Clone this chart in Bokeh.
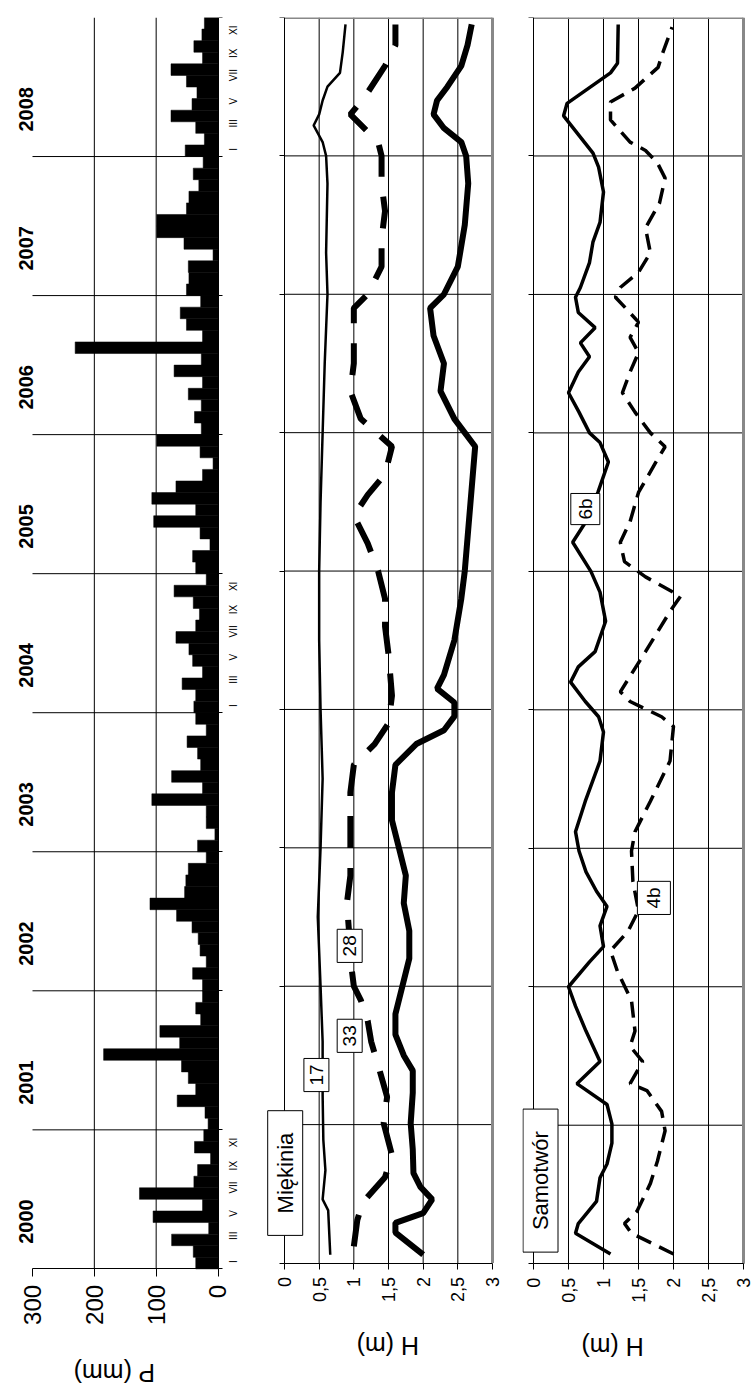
import math
from bokeh.plotting import figure
from bokeh.models import Range1d, FixedTicker, LinearAxis, Label
from bokeh.layouts import row
from bokeh.embed import file_html
from bokeh.resources import INLINE

FONT = "Liberation Sans"

# ---------------- data ----------------
years = [2000, 2001, 2002, 2003, 2004, 2005, 2006, 2007, 2008]
month_labels = ["I", "III", "V", "VII", "IX", "XI"]

# monthly precipitation P (mm), Jan..Dec
p2000 = [36, 40, 75, 15, 105, 25, 127, 39, 33, 12, 38, 23]
p2001 = [16, 21, 66, 36, 48, 59, 185, 62, 94, 28, 36, 25]
p2002 = [25, 41, 19, 29, 32, 42, 67, 110, 54, 52, 48, 19]
p2003 = [33, 5, 19, 19, 107, 25, 75, 28, 33, 50, 19, 36]
p2004 = [39, 36, 58, 25, 41, 47, 68, 36, 30, 40, 71, 19]
p2005 = [36, 41, 13, 29, 104, 36, 107, 68, 25, 8, 29, 99]
p2006 = [27, 38, 27, 48, 25, 71, 27, 231, 25, 51, 61, 28]
p2007 = [51, 47, 48, 8, 55, 99, 99, 51, 47, 31, 40, 24]
p2008 = [53, 22, 36, 76, 42, 34, 51, 76, 25, 39, 26, 22]
precip = p2000 + p2001 + p2002 + p2003 + p2004 + p2005 + p2006 + p2007 + p2008

# groundwater depth H (m) – Miękinia, piezometers 17, 28, 33 (time in decimal years)
m17_t = [2000.06, 2000.38, 2000.46, 2000.67, 2000.89, 2001.21, 2001.6, 2002.0, 2002.5, 2003.0,
         2003.5, 2004.0, 2004.5, 2005.0, 2005.5, 2006.0, 2006.5, 2007.0, 2007.3, 2007.8,
         2008.0, 2008.1, 2008.22, 2008.3, 2008.4, 2008.5, 2008.6, 2008.75, 2008.95]
m17_h = [0.66, 0.63, 0.55, 0.59, 0.56, 0.55, 0.55, 0.52, 0.48, 0.52,
         0.55, 0.52, 0.5, 0.5, 0.52, 0.55, 0.58, 0.62, 0.6, 0.62,
         0.6, 0.55, 0.42, 0.5, 0.55, 0.62, 0.8, 0.84, 0.88]

m28_t = [2000.12, 2000.31, 2000.44, 2000.62, 2000.78, 2001.01, 2001.2, 2001.43, 2001.6, 2001.75,
         2001.9, 2002.0, 2002.2, 2002.4, 2002.6, 2002.8, 2003.0, 2003.2, 2003.4, 2003.6,
         2003.75, 2003.9, 2004.1, 2004.4, 2004.6, 2004.8, 2005.0, 2005.2, 2005.4, 2005.55,
         2005.7, 2005.9, 2006.1, 2006.3, 2006.5, 2006.7, 2006.9, 2007.0, 2007.2, 2007.4,
         2007.6, 2007.8, 2008.0, 2008.1, 2008.3, 2008.42, 2008.65, 2008.8, 2008.95]
m28_h = [1.0, 1.05, 1.13, 1.45, 1.55, 1.43, 1.48, 1.35, 1.25, 1.2,
         1.1, 1.0, 0.95, 0.93, 0.9, 0.95, 0.95, 0.95, 0.95, 1.0,
         1.3, 1.5, 1.55, 1.5, 1.45, 1.45, 1.35, 1.2, 1.0, 1.2,
         1.45, 1.55, 1.1, 0.95, 1.0, 1.0, 1.0, 1.2, 1.4, 1.4,
         1.45, 1.4, 1.4, 1.35, 0.95, 1.15, 1.45, 1.6, 1.6]

m33_t = [2000.06, 2000.22, 2000.29, 2000.36, 2000.46, 2000.55, 2000.65, 2000.82, 2001.01, 2001.23,
         2001.39, 2001.5, 2001.65, 2001.8, 2002.0, 2002.2, 2002.4, 2002.6, 2002.8, 2003.0,
         2003.2, 2003.4, 2003.6, 2003.75, 2003.85, 2003.95, 2004.05, 2004.15, 2004.25, 2004.5,
         2004.8, 2005.0, 2005.3, 2005.6, 2005.9, 2006.1, 2006.3, 2006.5, 2006.7, 2006.9,
         2007.0, 2007.2, 2007.5, 2007.8, 2008.0, 2008.1, 2008.2, 2008.3, 2008.4, 2008.5,
         2008.65, 2008.8, 2008.95]
m33_h = [2.0, 1.6, 1.6, 2.0, 2.13, 1.96, 1.86, 1.85, 1.82, 1.85,
         1.85, 1.72, 1.6, 1.6, 1.7, 1.8, 1.8, 1.72, 1.75, 1.65,
         1.55, 1.55, 1.6, 1.9, 2.3, 2.45, 2.45, 2.2, 2.3, 2.45,
         2.55, 2.6, 2.65, 2.7, 2.75, 2.45, 2.25, 2.3, 2.15, 2.1,
         2.3, 2.5, 2.6, 2.65, 2.62, 2.55, 2.3, 2.15, 2.2, 2.35,
         2.55, 2.64, 2.7]

# Samotwór, piezometers 6b, 4b
s6b_t = [2000.07, 2000.22, 2000.29, 2000.45, 2000.62, 2000.72, 2000.87, 2001.01, 2001.15, 2001.30,
         2001.46, 2001.57, 2001.68, 2001.86, 2002.0, 2002.18, 2002.29, 2002.44, 2002.58, 2002.69,
         2002.83, 2002.98, 2003.12, 2003.34, 2003.63, 2003.84, 2003.95, 2004.06, 2004.2, 2004.31,
         2004.42, 2004.64, 2004.85, 2005.0, 2005.21, 2005.36, 2005.57, 2005.79, 2005.93, 2006.0,
         2006.15, 2006.29, 2006.44, 2006.55, 2006.65, 2006.76, 2006.87, 2006.98, 2007.05, 2007.23,
         2007.38, 2007.52, 2007.74, 2007.92, 2008.02, 2008.29, 2008.38, 2008.6, 2008.67, 2008.95]
s6b_h = [1.1, 0.6, 0.64, 0.9, 0.95, 1.05, 1.12, 1.12, 1.05, 0.62,
         0.95, 0.85, 0.75, 0.6, 0.5, 0.8, 1.0, 0.95, 1.05, 0.9,
         0.75, 0.65, 0.6, 0.74, 0.95, 1.0, 0.93, 0.74, 0.53, 0.64,
         0.88, 1.03, 0.95, 0.82, 0.56, 0.75, 0.92, 1.07, 0.95, 0.8,
         0.65, 0.5, 0.64, 0.8, 0.67, 0.88, 0.64, 0.6, 0.67, 0.8,
         0.85, 0.95, 1.0, 0.93, 0.85, 0.43, 0.48, 1.1, 1.2, 1.21]

s4b_t = [2000.07, 2000.22, 2000.29, 2000.38, 2000.58, 2000.74, 2000.96, 2001.1, 2001.25, 2001.3,
         2001.46, 2001.57, 2001.68, 2001.9, 2002.11, 2002.26, 2002.4, 2002.55, 2002.76, 2002.98,
         2003.12, 2003.34, 2003.63, 2003.88, 2003.95, 2004.06, 2004.13, 2004.42, 2004.71, 2004.82,
         2004.96, 2005.07, 2005.21, 2005.36, 2005.57, 2005.79, 2005.9, 2006.0, 2006.15, 2006.29,
         2006.44, 2006.58, 2006.69, 2006.8, 2006.91, 2006.98, 2007.05, 2007.16, 2007.3, 2007.48,
         2007.66, 2007.84, 2007.95, 2008.04, 2008.1, 2008.26, 2008.39, 2008.49, 2008.64, 2008.75,
         2008.93]
s4b_h = [2.0, 1.4, 1.3, 1.48, 1.67, 1.77, 1.88, 1.83, 1.62, 1.38,
         1.56, 1.38, 1.45, 1.4, 1.2, 1.1, 1.35, 1.5, 1.42, 1.4,
         1.45, 1.67, 1.95, 2.0, 1.83, 1.38, 1.24, 1.6, 1.95, 2.1,
         1.6, 1.3, 1.24, 1.38, 1.5, 1.75, 1.88, 1.67, 1.45, 1.27,
         1.38, 1.5, 1.38, 1.5, 1.3, 1.17, 1.24, 1.5, 1.67, 1.6,
         1.8, 1.88, 1.77, 1.6, 1.38, 1.1, 1.1, 1.45, 1.78, 1.85,
         1.98]

h_ticks = [0, 0.5, 1, 1.5, 2, 2.5, 3]
h_tick_labels = ["0", "0,5", "1", "1,5", "2", "2,5", "3"]
h_grid = [0.5, 1, 1.5, 2, 2.5]
p_ticks = [0, 100, 200, 300]
p_grid = [100, 200]

# ---------------- layout helpers ----------------
NM = 12 * len(years)
H_MAX = 3.0
P_MAX = 300
V = math.pi / 2
HEIGHT = 1387
BOTTOM = 1387          # frame bottom (px); the time axis itself sits higher, inside the frame


def to_m(ts):
    return [(t - years[0]) * 12.0 for t in ts]


def y_range_for(top, axis_y):
    """Time range (months) so that months 0..NM span top..axis_y px and the frame runs on to BOTTOM."""
    ppm = (axis_y - top) / NM
    return Range1d(-(BOTTOM - axis_y) / ppm, NM), ppm


def x_range_for(v0, px0, v1, px1, left_px, right_px):
    """Value range whose frame spans canvas px left_px..right_px, with v0 at px0 and v1 at px1."""
    k = (v1 - v0) / (px1 - px0)
    return Range1d(v0 + (left_px - px0) * k, v0 + (right_px - px0) * k)


year_bounds = list(range(0, NM + 1, 12))
inner_bounds = year_bounds[1:-1]


def style_bottom_axis(ax, ticks, labels, size, tick_out, standoff, bounds):
    ax.fixed_location = 0
    ax.bounds = bounds
    ax.ticker = FixedTicker(ticks=ticks)
    if labels is not None:
        ax.major_label_overrides = dict(zip(ticks, labels))
    ax.major_label_orientation = V
    ax.major_label_text_font = FONT
    ax.major_label_text_font_size = size
    ax.major_label_text_color = "black"
    ax.major_tick_out = tick_out
    ax.major_tick_in = 0
    ax.minor_tick_out = 0
    ax.minor_tick_in = 0
    ax.major_label_standoff = standoff
    ax.axis_line_color = "black"


def title(f, x, y, text):
    f.add_layout(Label(x=x, y=y, text=text, angle=math.pi, text_align="center", text_baseline="middle",
                       text_font=FONT, text_font_size="25px", text_color="black"))


# ---------------- precipitation panel (canvas x 0..250) ----------------
W1 = 250
yr1, ppm1 = y_range_for(12.5, 1268)
p1 = figure(width=W1, height=HEIGHT, x_range=x_range_for(P_MAX, 32, 0, 217.5, 0, W1), y_range=yr1,
            output_backend="svg", toolbar_location=None,
            min_border_left=0, min_border_right=0, min_border_top=12, min_border_bottom=HEIGHT - BOTTOM)
p1.outline_line_color = None
p1.ygrid.grid_line_color = None
p1.xgrid.grid_line_color = None
p1.segment(x0=p_grid, x1=p_grid, y0=[0] * len(p_grid), y1=[NM] * len(p_grid),
           line_color="black", line_width=1)
p1.segment(x0=[P_MAX] * len(inner_bounds), x1=[0] * len(inner_bounds), y0=inner_bounds, y1=inner_bounds,
           line_color="black", line_width=1)
p1.hbar(y=[i + 0.5 for i in range(NM)], height=1.0, left=0, right=precip,
        fill_color="black", line_color="black", line_width=0.5)

style_bottom_axis(p1.xaxis[0], p_ticks, None, "24px", 8, 8, (0, P_MAX))
title(p1, 168, -104 / ppm1, "P (mm)")

ya = p1.yaxis[0]
ya.fixed_location = P_MAX
ya.ticker = FixedTicker(ticks=[6 + 12 * k for k in range(len(years))])
ya.major_label_overrides = {6 + 12 * k: str(y) for k, y in enumerate(years)}
ya.major_label_orientation = V
ya.major_label_text_font = FONT
ya.major_label_text_font_size = "20px"
ya.major_label_text_font_style = "bold"
ya.major_label_text_color = "black"
ya.major_tick_out = 0
ya.major_tick_in = 0
ya.minor_tick_out = 0
ya.minor_tick_in = 0
ya.axis_line_color = None
ya.major_label_standoff = 6

mticks = []
mover = {}
for k in (0, 4, 8):
    for j, lab in enumerate(month_labels):
        pos = 12 * k + 2 * j + 0.5
        mticks.append(pos)
        mover[pos] = lab
ra = LinearAxis(ticker=FixedTicker(ticks=mticks, minor_ticks=year_bounds), bounds=(0, NM), fixed_location=0)
ra.major_label_overrides = mover
ra.major_label_orientation = V
ra.major_label_text_font = FONT
ra.major_label_text_font_size = "10px"
ra.major_label_text_color = "black"
ra.major_tick_out = 0
ra.major_tick_in = 0
ra.minor_tick_out = 4
ra.minor_tick_in = 0
ra.major_label_standoff = 12
ra.axis_line_color = "black"
p1.add_layout(ra, "right")


# ---------------- H panels ----------------
def h_fig(width, xr, bl, top, axis_y):
    yr, ppm = y_range_for(top, axis_y)
    f = figure(width=width, height=HEIGHT, x_range=xr, y_range=yr,
               output_backend="svg", toolbar_location=None,
               min_border_left=bl, min_border_right=0, min_border_top=int(round(top)),
               min_border_bottom=HEIGHT - BOTTOM)
    f.outline_line_color = None
    f.ygrid.grid_line_color = None
    f.xgrid.grid_line_color = None
    # grid (H every 0.5 m, year boundaries) limited to the plot area
    f.segment(x0=h_grid, x1=h_grid, y0=[0] * len(h_grid), y1=[NM] * len(h_grid),
              line_color="black", line_width=1)
    f.segment(x0=[0] * len(inner_bounds), x1=[H_MAX] * len(inner_bounds),
              y0=inner_bounds, y1=inner_bounds, line_color="black", line_width=1)
    # grey plot-area border (top and right)
    f.segment(x0=[0, H_MAX], x1=[H_MAX, H_MAX], y0=[NM, 0], y1=[NM, NM],
              line_color="#888888", line_width=3)
    style_bottom_axis(f.xaxis[0], h_ticks, h_tick_labels, "18px", 6, 8, (0, H_MAX))
    ay = f.yaxis[0]
    ay.fixed_location = 0
    ay.bounds = (0, NM)
    ay.ticker = FixedTicker(ticks=[], minor_ticks=year_bounds)
    ay.major_tick_out = 0
    ay.major_tick_in = 0
    ay.minor_tick_out = 5
    ay.minor_tick_in = 0
    ay.axis_line_color = "black"
    return f, ppm


def box_label(f, x, y, text, size, pad):
    f.add_layout(Label(x=x, y=y, text=text, angle=V, text_align="center", text_baseline="middle",
                       text_font=FONT, text_font_size=size, text_color="black",
                       background_fill_color="white", border_line_color="black", border_line_width=1,
                       padding=pad))


# Miękinia: canvas x 250..510 -> H=0 at 34 px, H=3 at 242 px (canvas coordinates), frame 16..260
W2 = 260
p2, ppm2 = h_fig(W2, x_range_for(0, 34, H_MAX, 242, 16, W2), 16, 17, 1262.5)
p2.line(m17_h, to_m(m17_t), line_color="black", line_width=2.5)
p2.line(m28_h, to_m(m28_t), line_color="black", line_width=6, line_dash="32 20")
p2.line(m33_h, to_m(m33_t), line_color="black", line_width=6)
box_label(p2, 0.01, 7.8, "Miękinia", "22px", (22, 5))
box_label(p2, 0.46, 16.3, "17", "19px", (6, 6))
box_label(p2, 0.94, 27.5, "28", "19px", (6, 6))
box_label(p2, 0.94, 19.7, "33", "19px", (6, 6))
title(p2, 1.49, -83 / ppm2, "H (m)")

# Samotwór: canvas x 510..753 -> H=0 at 23 px, H=3 at 233 px, frame 12..243
W3 = 243
p3, ppm3 = h_fig(W3, x_range_for(0, 23, H_MAX, 233, 12, W3), 12, 15, 1263)
p3.line(s6b_h, to_m(s6b_t), line_color="black", line_width=3.5)
p3.line(s4b_h, to_m(s4b_t), line_color="black", line_width=3.5, line_dash="16 9")
box_label(p3, 0.1, 7.2, "Samotwór", "22px", (22, 5))
box_label(p3, 0.74, 65.4, "6b", "19px", (5, 4))
box_label(p3, 1.72, 31.7, "4b", "19px", (6, 6))
title(p3, 1.13, -83 / ppm3, "H (m)")

layout = row(p1, p2, p3)
open("out.html", "w").write(file_html(layout, INLINE))
